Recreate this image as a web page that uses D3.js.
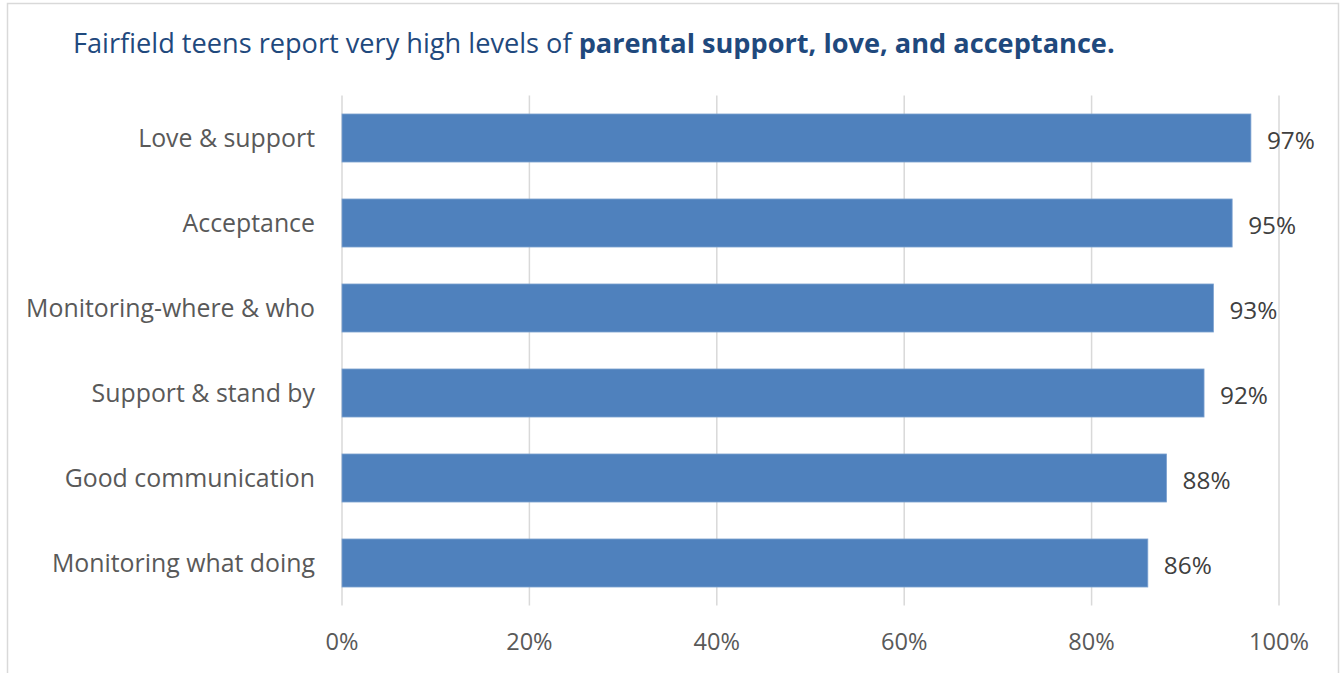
<!DOCTYPE html>
<html>
<head>
<meta charset="utf-8">
<script src="https://cdn.jsdelivr.net/npm/d3@7"></script>
<style>
  html, body { margin: 0; padding: 0; background: #fff; }
  svg { display: block; font-family: "Open Sans", "Noto Sans", sans-serif; }
</style>
</head>
<body>
<svg id="chart" width="1340" height="673"></svg>
<script>
// Parental support measures, share of teens agreeing
const categories = ["Love & support", "Acceptance", "Monitoring-where & who", "Support & stand by", "Good communication", "Monitoring what doing"];
const values = [97, 95, 93, 92, 88, 86];
const tickValues = [0, 20, 40, 60, 80, 100];
const titlePlain = "Fairfield teens report very high levels of ";
const titleBold = "parental support, love, and acceptance.";

const svg = d3.select("#chart");

// chart frame
svg.append("rect")
  .attr("x", 7.5).attr("y", 3.5)
  .attr("width", 1331).attr("height", 680)
  .attr("fill", "#fff").attr("stroke", "#d9d9d9").attr("stroke-width", 1.5);

const plot = { left: 342, right: 1279, top: 95.5, bottom: 605.5 };

const x = d3.scaleLinear().domain([0, 100]).range([plot.left, plot.right]);
const y = d3.scaleBand().domain(categories).range([plot.top, plot.bottom]).paddingInner(0.435).paddingOuter(0.2175);

// vertical gridlines
svg.append("g")
  .selectAll("line")
  .data(tickValues)
  .join("line")
  .attr("x1", d => x(d)).attr("x2", d => x(d))
  .attr("y1", plot.top).attr("y2", plot.bottom)
  .attr("stroke", "#d9d9d9").attr("stroke-width", 1.5);

// bars
svg.append("g")
  .selectAll("rect")
  .data(categories)
  .join("rect")
  .attr("x", x(0))
  .attr("y", d => y(d))
  .attr("width", (d, i) => x(values[i]) - x(0))
  .attr("height", y.bandwidth())
  .attr("fill", "#4f81bd")
  .attr("stroke", "#7da2d0").attr("stroke-width", 0.8);

// size a text selection so that a reference string spans a given width
function fitFont(sel, base, measureNode, target) {
  const w = measureNode.getComputedTextLength();
  sel.attr("font-size", base * target / w);
}

// category labels
const labels = svg.append("g").selectAll("text")
  .data(categories)
  .join("text")
  .attr("x", 315)
  .attr("y", d => y(d) + y.bandwidth() / 2)
  .attr("dy", "0.35em")
  .attr("text-anchor", "end")
  .attr("fill", "#595959")
  .attr("font-size", 22)
  .text(d => d);
{
  const widest = labels.nodes().reduce((a, n) => n.getComputedTextLength() > a.getComputedTextLength() ? n : a);
  fitFont(labels, 22, widest, 289);
}

// value labels
const vals = svg.append("g").selectAll("text")
  .data(categories)
  .join("text")
  .attr("x", (d, i) => x(values[i]) + 16)
  .attr("y", d => y(d) + y.bandwidth() / 2 + 2)
  .attr("dy", "0.35em")
  .attr("fill", "#404040")
  .attr("font-size", 22)
  .text((d, i) => values[i] + "%");
fitFont(vals, 22, vals.node(), 48);

// x axis tick labels
const ticks = svg.append("g").selectAll("text")
  .data(tickValues)
  .join("text")
  .attr("x", d => x(d))
  .attr("y", 642)
  .attr("dy", "0.35em")
  .attr("text-anchor", "middle")
  .attr("fill", "#595959")
  .attr("font-size", 22)
  .text(d => d + "%");
fitFont(ticks, 22, ticks.nodes()[5], 60);

// title
const title = svg.append("text")
  .attr("x", 73).attr("y", 53)
  .attr("fill", "#1f497d")
  .attr("font-size", 24);
title.append("tspan").text(titlePlain);
title.append("tspan").attr("font-weight", "bold").text(titleBold);
fitFont(title, 24, title.node(), 1042);
</script>
</body>
</html>
